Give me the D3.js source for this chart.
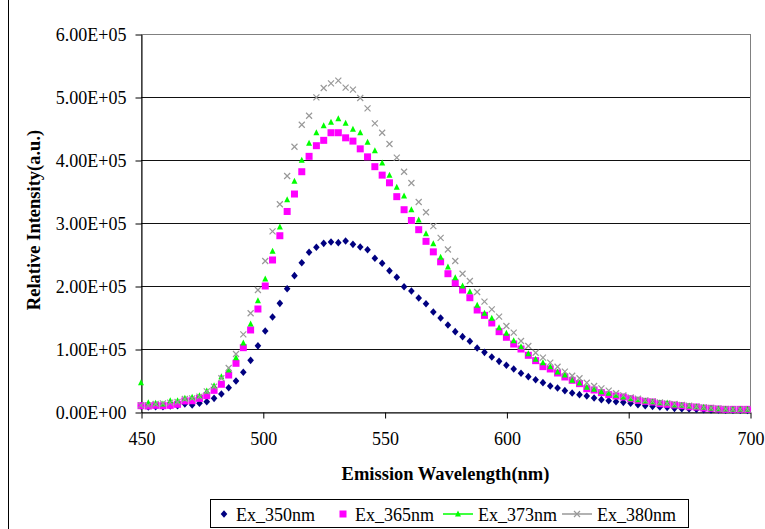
<!DOCTYPE html>
<html>
<head>
<meta charset="utf-8">
<script src="https://cdn.jsdelivr.net/npm/d3@7"></script>
<style>
  body { margin: 0; background: #fff; }
  svg text { font-family: "Liberation Serif", "Times New Roman", serif; }
  .axis path, .axis line { stroke: #000; }
  .axis text { fill: #000; }
</style>
</head>
<body>
<script>
// emission wavelengths (nm)
const wavelengths = [450, 453, 456, 459, 462, 465, 468, 471, 474, 477, 480, 483, 486, 489, 492, 495, 498, 501, 504, 507,
  510, 513, 516, 519, 522, 525, 528, 531, 534, 537, 540, 543, 546, 549, 552, 555, 558, 561, 564, 567,
  570, 573, 576, 579, 582, 585, 588, 591, 594, 597, 600, 603, 606, 609, 612, 615, 618, 621, 624, 627,
  630, 633, 636, 639, 642, 645, 648, 651, 654, 657, 660, 663, 666, 669, 672, 675, 678, 681, 684, 687,
  690, 693, 696, 699]

const ex350 = [9500, 7900, 8400, 8400, 9500, 10000, 12700, 11100, 13800, 16400, 21700, 28600, 38600, 49200, 63000,
  82000, 105000, 128600, 150800, 172500, 195700, 216400, 237000, 253500, 261400, 267700, 269800, 268800, 271400,
  266100, 261900, 257600, 244000, 236000, 224300, 213800, 198900, 192100, 181000, 171900, 158700, 149200, 138100,
  127500, 119600, 112200, 101600, 94700, 87300, 80400, 74100, 68300, 61400, 56100, 51300, 46600, 41300, 38100,
  33900, 30200, 27500, 25400, 22200, 19600, 18000, 16400, 15300, 13800, 11600, 10000, 9000, 7900, 7400, 5800,
  5300, 4800, 4200, 3700, 3200, 3200, 3000, 2700, 2700, 2600]

const ex365 = [10000, 9500, 10600, 10000, 10600, 12200, 17500, 17900, 21700, 25900, 34400, 44000, 58700, 77300, 102100,
  130200, 163500, 200000, 241300, 279800, 318300, 346000, 381400, 405800, 422700, 431200, 443300, 443300,
  435200, 430000, 417700, 405000, 389400, 376000, 363800, 341800, 321100, 304000, 289400, 270900,
  254200, 238400, 219500, 204800, 193700, 181400, 161900, 153400, 141300, 127500, 118600, 107900, 100000, 90000,
  81500, 72000, 68300, 61900, 55600, 50300, 45000, 37000, 34900, 30700, 27500, 25400, 23800, 21100, 18500, 16900,
  15900, 13200, 12200, 11100, 10000, 8400, 7900, 6300, 5800, 4800, 4200, 4200, 4200, 4200]

const ex373 = [46500, 14800, 13800, 12700, 17900, 17900, 21700, 23300, 25900, 33300, 41700, 56000, 66700, 86200, 109500,
  139700, 176700, 211100, 255000, 293700, 337000, 366100, 399500, 426500, 443300, 454400, 459800, 465300,
  458500, 448700, 443100, 428100, 414500, 395200, 375700, 356700, 342900, 321100, 304800, 283000,
  267100, 245600, 230200, 213200, 200000, 191000, 169300, 156600, 148700, 133800, 124900, 113200, 103700, 92500,
  83600, 78300, 71900, 63500, 58700, 50300, 46000, 39200, 36000, 32200, 29700, 26500, 23800, 21100, 19600, 17500,
  16400, 14800, 14300, 11100, 10600, 9500, 8400, 7400, 5800, 5300, 4800, 4200, 4200, 4200]

const ex380 = [10600, 10600, 12700, 13800, 14800, 15900, 20600, 21700, 24300, 32800, 40200, 53500, 69800, 92100, 123300,
  156700, 193700, 239700, 286700, 329700, 374600, 421100, 456000, 470300, 499500, 514300, 521700, 525900,
  514800, 511600, 498400, 482000, 458200, 443300, 425400, 403700, 381400, 363500, 333300, 317000,
  295000, 276500, 258000, 239700, 219500, 207900, 190500, 175100, 163000, 151300, 136500, 125900, 112700, 104800,
  94100, 86200, 78300, 71900, 64000, 57600, 53500, 46500, 41300, 37600, 33900, 29700, 26500, 23300, 21100, 18500,
  16900, 15300, 13800, 12700, 11100, 10000, 8400, 7400, 6300, 5300, 4800, 4200, 4200, 4200]

const seriesNames = ['Ex_350nm', 'Ex_365nm', 'Ex_373nm', 'Ex_380nm']
const seriesValues = [ex350, ex365, ex373, ex380]
const seriesColors = ['#000080', '#ff00ff', '#00ff00', '#999999']
const seriesShapes = ['diamond', 'square', 'triangle', 'cross']

const xTicks = [450, 500, 550, 600, 650, 700]
const yTicks = [0, 100000, 200000, 300000, 400000, 500000, 600000]
const yTickLabels = ['0.00E+00', '1.00E+05', '2.00E+05', '3.00E+05', '4.00E+05', '5.00E+05', '6.00E+05']

const serif = '"Liberation Serif", "Times New Roman", serif'

// layout
var W = 765, H = 529
var plot = { left: 141, right: 750, top: 34, bottom: 412 }

var svg = d3.select("body").append("svg")
    .attr("width", W)
    .attr("height", H)

// outer chart frame (only the left edge shows in the picture)
svg.append("line")
    .attr("x1", 8.5).attr("x2", 8.5)
    .attr("y1", 0).attr("y2", H)
    .attr("stroke", "#000")

var x = d3.scaleLinear().domain([450, 700]).range([plot.left, plot.right])
var y = d3.scaleLinear().domain([0, 600000]).range([plot.bottom, plot.top])

// plot area border
svg.append("rect")
    .attr("x", plot.left + 0.5)
    .attr("y", plot.top + 0.5)
    .attr("width", plot.right - plot.left)
    .attr("height", plot.bottom - plot.top)
    .attr("fill", "none")
    .attr("stroke", "#808080")

// horizontal gridlines
svg.selectAll(".grid")
    .data(yTicks.slice(1, -1))
    .enter()
    .append("line")
    .attr("x1", plot.left)
    .attr("x2", plot.right)
    .attr("y1", d => Math.round(y(d)) + 0.5)
    .attr("y2", d => Math.round(y(d)) + 0.5)
    .attr("stroke", "#111")

var yAxis = d3.axisLeft(y)
    .tickValues(yTicks)
    .tickFormat((d, i) => yTickLabels[i])
    .tickSize(6)
    .tickPadding(9)
    .tickSizeOuter(0)

svg.append("g")
    .attr("class", "y axis")
    .attr("transform", "translate(" + (plot.left + 0.5) + ",0.5)")
    .call(yAxis)
    .attr("font-family", serif)
    .attr("font-size", 18)

var xAxis = d3.axisBottom(x)
    .tickValues(xTicks)
    .tickSize(6)
    .tickPadding(14)
    .tickSizeOuter(0)

svg.append("g")
    .attr("class", "x axis")
    .attr("transform", "translate(0.5," + (plot.bottom + 0.5) + ")")
    .call(xAxis)
    .attr("font-family", serif)
    .attr("font-size", 18)

// axis titles
svg.append("text")
    .attr("text-anchor", "middle")
    .attr("x", (plot.left + plot.right) / 2)
    .attr("y", 480)
    .attr("font-family", serif)
    .attr("font-size", "18.5px")
    .attr("font-weight", "bold")
    .text("Emission Wavelength(nm)")

svg.append("text")
    .attr("text-anchor", "middle")
    .attr("transform", "translate(40," + 220 + ") rotate(-90)")
    .attr("font-family", serif)
    .attr("font-size", "18.5px")
    .attr("font-weight", "bold")
    .text("Relative Intensity(a.u.)")

// marker drawing
function drawMarker(sel, shape, color) {
    if (shape === 'diamond') {
        sel.append("path").attr("d", "M0,-3.8L3.3,0L0,3.8L-3.3,0Z").attr("fill", color)
    } else if (shape === 'square') {
        sel.append("rect").attr("x", -3.5).attr("y", -3.5).attr("width", 7).attr("height", 7).attr("fill", color)
    } else if (shape === 'triangle') {
        sel.append("path").attr("d", "M0,-3.5L3,2.5L-3,2.5Z").attr("fill", color)
    } else {
        sel.append("path").attr("d", "M-3,-3L3,3M-3,3L3,-3")
            .attr("stroke", color).attr("stroke-width", 1.2).attr("fill", "none")
    }
}

seriesValues.forEach((vals, s) => {
    var pts = vals.map((v, i) => ({ wl: wavelengths[i], v: v }))
    svg.append("g")
        .selectAll("g")
        .data(pts)
        .enter()
        .append("g")
        .attr("transform", d => "translate(" + x(d.wl) + "," + y(d.v) + ")")
        .each(function () { drawMarker(d3.select(this), seriesShapes[s], seriesColors[s]) })
})

// legend
var legend = svg.append("g")
legend.append("rect")
    .attr("x", 210.5).attr("y", 499.5)
    .attr("width", 478).attr("height", 28)
    .attr("fill", "#fff").attr("stroke", "#000")

var legendX = [224, 343, 458, 577]
seriesNames.forEach((name, s) => {
    var g = legend.append("g").attr("transform", "translate(" + legendX[s] + ",514)")
    if (s >= 2) {
        g.append("line").attr("x1", -15).attr("x2", 15)
            .attr("stroke", seriesColors[s]).attr("stroke-width", 1.5)
    }
    drawMarker(g, seriesShapes[s], seriesColors[s])
    legend.append("text")
        .attr("x", legendX[s] + (s >= 2 ? 20 : 12))
        .attr("y", 521)
        .attr("font-family", serif)
        .attr("font-size", "18px")
        .text(name)
})
</script>
</body>
</html>
